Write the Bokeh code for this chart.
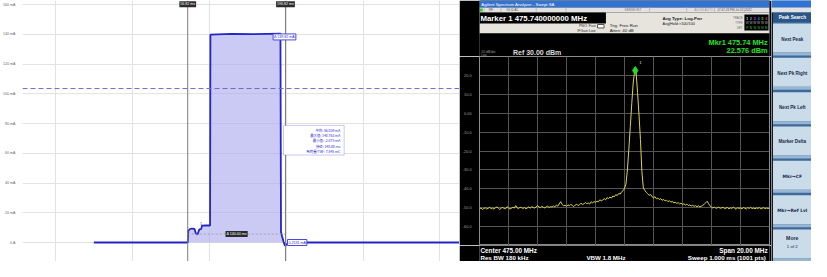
import numpy as np
from bokeh.plotting import figure
from bokeh.layouts import row, column
from bokeh.models import Range1d, FixedTicker, Label, BoxAnnotation, Span
from bokeh.core.properties import value
from bokeh.embed import file_html
from bokeh.resources import INLINE

FONT = "Liberation Sans"
CJK = "Noto Sans CJK SC"

# ---------------- Left: current waveform (time in ms, current in mA) ----------------
wave_t = [-77.6, 56.82, 57.6, 59.5, 62.4, 66.6, 68.4, 70.8, 73.4, 76.0, 77.4, 87.6, 88.8,
          89.3, 120.0, 150.0, 189.6, 190.4, 192.0, 194.0, 196.0, 199.0, 201.0, 446.0]
wave_i = [0.0, 0.0, 7.8, 8.9, 9.4, 9.1, 6.2, 5.4, 8.8, 9.0, 11.4, 11.6, 11.2,
          139.8, 140.3, 140.1, 140.4, 7.2, 4.0, 0.6, -2.1, -1.2, 0.0, 0.0]
cursor_t = [56.82, 196.82]
threshold_ma = 103.5
delta_level_ma = 5.7
readout_level_ma = 138.2
current_ticks = [0, 20, 40, 60, 80, 100, 120, 140, 160]
current_tick_labels = ["0 A", "20 mA", "40 mA", "60 mA", "80 mA", "100 mA", "120 mA", "140 mA", "160 mA"]
time_grid = [-132, -22, 88, 198, 308, 418]
peak_readout = "Δ 139.82 mA"
base_readout = "0.2531 mA"
stats_lines = ["平均: 56.039 mA", "最大值: 140.763 mA", "最小值: -2.075 mA",
               "持续: 140.00 ms", "电荷量/TBF: 7.845 mC"]

# ---------------- Right: spectrum analyzer trace ----------------
center_mhz = 475.0
span_mhz = 20.0
ref_dbm = 30.0
db_per_div = 10
rbw_text = "180 kHz"
vbw_text = "1.8 MHz"
sweep_text = "1.000 ms (1001 pts)"
marker_mhz = 475.74
marker_dbm = 22.576
spec_level = [
    -50.6, -50.2, -50.9, -50.4, -50.1, -50.7, -50.3, -49.8, -50.5, -50.2,
    -50.8, -50.0, -49.6, -50.3, -50.9, -50.2, -49.9, -50.4, -50.6, -49.5,
    -50.1, -50.7, -50.3, -49.8, -50.2, -48.9, -50.1, -50.5, -49.7, -50.0,
    -50.4, -49.9, -50.6, -50.1, -49.6, -50.3, -49.4, -49.9, -50.2, -49.7,
    -48.8, -49.6, -50.0, -49.3, -49.8, -50.1, -49.5, -49.2, -49.9, -49.4,
    -49.7, -49.1, -49.6, -48.6, -49.2, -48.0, -46.8, -48.3, -49.0, -48.7,
    -49.3, -48.5, -49.0, -48.2, -48.8, -49.4, -48.6, -48.1, -48.9, -48.4,
    -47.6, -48.3, -48.0, -47.2, -47.9, -47.5, -48.1, -46.9, -47.4, -46.8,
    -47.2, -46.5, -46.9, -45.8, -46.4, -45.9, -45.2, -45.8, -44.7, -45.1,
    -44.4, -44.9, -43.8, -44.2, -43.1, -43.6, -42.5, -42.8, -41.6, -41.0,
    -39.8, -37.5, -30.0, -19.0, -7.0, 5.0, 16.0, 22.3, 21.6, 11.0,
    -1.0, -14.0, -31.0, -39.6, -40.8, -41.9, -42.6, -43.5, -43.0, -44.2,
    -44.8, -44.1, -45.3, -44.9, -45.7, -45.2, -46.1, -45.6, -46.4, -46.0,
    -46.8, -46.3, -47.1, -46.6, -47.5, -47.0, -47.8, -47.3, -48.0, -47.6,
    -48.3, -47.9, -48.6, -48.1, -48.9, -48.5, -49.1, -48.7, -49.3, -48.9,
    -49.5, -49.0, -49.6, -49.2, -48.8, -48.1, -47.4, -46.6, -47.9, -49.0,
    -49.8, -50.2, -49.6, -50.4, -50.0, -49.7, -50.3, -50.1, -49.8, -50.5,
    -50.2, -49.9, -50.6, -50.1, -50.4, -49.7, -50.3, -50.8, -50.0, -50.4,
    -50.1, -50.6, -49.9, -50.3, -50.7, -50.0, -50.4, -49.8, -50.5, -50.2,
    -50.6, -50.1, -50.4, -49.9, -50.7, -50.3, -50.0, -50.5, -50.2, -50.4,
    -50.3]
spec_freq = np.linspace(center_mhz - span_mhz / 2, center_mhz + span_mhz / 2, len(spec_level))
level_ticks = [-60, -50, -40, -30, -20, -10, 0, 10, 20]
level_tick_labels = ["-60.0", "-50.0", "-40.0", "-30.0", "-20.0", "-10.0", "0.00", "10.0", "20.0"]
softkeys = ["Next Peak", "Next Pk Right", "Next Pk Left", "Marker Delta", "Mkr→CF", "Mkr→Ref Lvl", "More"]
trace_digits = ["1", "2", "3", "4", "5", "6"]


def txt(p, x, y, s, size, color, align="left", bold=False, font=FONT):
    p.text(x=[x], y=[y], text=[s], text_font=value(font), text_font_size=value(f"{size}px"),
           text_color=color, text_align=align, text_baseline="middle",
           text_font_style="bold" if bold else "normal")


def box(p, l, r, t, b, color, line=None):
    p.quad(left=[l], right=[r], top=[t], bottom=[b], fill_color=color, line_color=line)


def panel(x0, x1, y0, y1, bg):
    p = figure(width=int(x1 - x0), height=int(y1 - y0), x_range=Range1d(x0, x1), y_range=Range1d(y1, y0),
               x_axis_location=None, y_axis_location=None, min_border=0,
               toolbar_location=None, output_backend="svg")
    p.grid.visible = False
    p.outline_line_color = None
    p.background_fill_color = bg
    p.border_fill_color = bg
    return p


# ================= Left chart =================
L = figure(width=459, height=261, x_range=Range1d(-179.78, 446.02), y_range=Range1d(-12.77, 162.69),
           x_axis_location=None, y_axis_location="left", toolbar_location=None, output_backend="svg",
           min_border_left=12, min_border_right=0, min_border_top=0, min_border_bottom=0)
L.outline_line_color = None
L.background_fill_color = "white"
L.border_fill_color = "white"
L.yaxis.ticker = FixedTicker(ticks=current_ticks)
L.yaxis.major_label_overrides = dict(zip(current_ticks, current_tick_labels))
L.yaxis.axis_line_color = None
L.yaxis.major_tick_line_color = None
L.yaxis.minor_tick_line_color = None
L.yaxis.major_label_text_font_size = "3.6px"
L.yaxis.major_label_text_color = "#666666"
L.yaxis.major_label_standoff = 1
L.xgrid.ticker = FixedTicker(ticks=time_grid)
L.grid.grid_line_color = "#e2e2e2"

c0, c1 = cursor_t
fill_t = [t for t in wave_t if c0 <= t <= c1]
fill_i = [i for t, i in zip(wave_t, wave_i) if c0 <= t <= c1]
L.varea(x=fill_t, y1=[0] * len(fill_t), y2=fill_i, fill_color="#a9a9ee", fill_alpha=0.62)
L.line(wave_t, wave_i, line_color="#2424c8", line_width=1.8)
L.line([c0, c1], [delta_level_ma, delta_level_ma], line_color="#9a9a9a", line_dash="2 2", line_width=0.8)

L.add_layout(Span(location=threshold_ma, dimension="width", line_color="#6b6bd6",
                  line_dash="5 3", line_width=1))
for t in cursor_t:
    L.add_layout(Span(location=t, dimension="height", line_color="#7c7c7c", line_width=1))
    L.add_layout(Label(x=t, y=160.2, text=f"{t:.2f} ms", text_font=FONT, text_font_size="3.6px",
                       text_color="white", text_align="center", text_baseline="middle",
                       background_fill_color="#2b2b2b", padding=1))

L.add_layout(Label(x=(c0 + c1) / 2, y=delta_level_ma, text=f"Δ {c1 - c0:.2f} ms", text_font=FONT,
                   text_font_size="3.6px", text_color="white", text_align="center",
                   text_baseline="middle", background_fill_color="#2b2b2b", padding=1))
L.add_layout(Label(x=c1, y=readout_level_ma, x_offset=-1, text=peak_readout, text_font=FONT,
                   text_font_size="3.6px", text_color="#2a2ad0", text_align="center",
                   text_baseline="middle", background_fill_color="white",
                   border_line_color="#4a4ad6", padding=1))
L.add_layout(Label(x=c1, y=0, x_offset=2, text=base_readout, text_font=FONT,
                   text_font_size="3.6px", text_color="#2a2ad0", text_align="left",
                   text_baseline="middle", background_fill_color="white",
                   border_line_color="#4a4ad6", padding=1))
L.add_layout(Label(x=76.0, y=9.2, y_offset=5, text="1", text_font=FONT, text_font_size="3.6px",
                   text_color="#2a2ad0", text_align="center", text_baseline="middle"))

L.add_layout(BoxAnnotation(left=c1 - 2.8, right=c1 + 84, top=78.7, bottom=58.8, fill_color="white",
                           fill_alpha=1, line_color="#4a4ad6", line_width=1, level="annotation"))
for k, s in enumerate(stats_lines):
    L.add_layout(Label(x=c1 + 78.4, y=75.5 - 3.6 * k, text=s, text_font=CJK, text_font_size="3.4px",
                       text_color="#2a2ad0", text_align="right", text_baseline="middle"))

# ================= Right: header =================
H = panel(467, 779, 8, 64, "black")
box(H, 467, 779, 8, 15, "#2f73d4")
txt(H, 469, 11.6, "Agilent Spectrum Analyzer - Swept SA", 4.3, "white")
box(H, 467, 779, 15, 20, "#e2e2e2")
seps = [472, 490, 528, 560, 650, 690, 720, 752]
H.segment(x0=seps, y0=[15] * len(seps), x1=seps, y1=[20] * len(seps), line_color="#b4b4b4", line_width=0.8)
box(H, 467.5, 470.5, 16, 19, "#2ecc2e")
txt(H, 477, 17.6, "RF", 3.2, "#555555")
txt(H, 496, 17.6, "50 Ω  AC", 3.2, "#555555")
txt(H, 623, 17.6, "SENSE:INT", 3.2, "#777777")
txt(H, 698, 17.6, "ALIGN AUTO", 3.2, "#999999")
txt(H, 723, 17.6, "07:41:28 PM Jul 07, 2022", 3.0, "#555555")
box(H, 467, 779, 20, 41, "#e6e4dc")
box(H, 467, 603, 20, 31, "black")
txt(H, 468, 25.8, f"Marker 1 {marker_mhz:.9f} MHz", 7.8, "white", bold=True)
txt(H, 592, 33.5, "PNO: Fast", 3.6, "#333333", align="right")
txt(H, 592, 38.6, "IFGain:Low", 3.6, "#333333", align="right")
box(H, 594, 601, 32, 35.5, "white", line="#555555")
txt(H, 607, 32.8, "Trig: Free Run", 4.4, "#222222")
txt(H, 607, 38.4, "Atten: 40 dB", 4.4, "#222222")
txt(H, 664, 25.6, "Avg Type: Log-Pwr", 4.4, "#222222", bold=True)
txt(H, 664, 31.2, "Avg|Hold:>100/100", 3.8, "#222222")
txt(H, 750, 25.5, "TRACE", 2.8, "#666666", align="right")
txt(H, 750, 30.5, "TYPE", 2.8, "#666666", align="right")
txt(H, 750, 35.5, "DET", 2.8, "#666666", align="right")
box(H, 752, 778, 22, 38, "black")
digit_colors = ["#f0e040", "#30d0f0", "#e040e0", "#5070ff", "#40e040", "#e04040"]
for k, d in enumerate(trace_digits):
    txt(H, 755 + 4.1 * k, 25.5, d, 3.4, digit_colors[k], align="center", bold=True)
    txt(H, 755 + 4.1 * k, 30.5, "W", 3.2, "#b0b0b0", align="center")
    txt(H, 755 + 4.1 * k, 35.5, "P" if k == 0 else "N", 3.2, "#3ccf3c", align="center")
box(H, 467, 779, 41, 64, "black")
txt(H, 777, 49.5, f"Mkr1 {marker_mhz:.2f} MHz", 7.4, "#27e327", align="right", bold=True)
txt(H, 777, 57.6, f"{marker_dbm:.3f} dBm", 7.4, "#27e327", align="right", bold=True)
txt(H, 469, 59.2, f"{db_per_div} dB/div", 3.4, "#9a9a9a")
txt(H, 469, 62.0, "Log", 3.1, "#9a9a9a")
txt(H, 503, 59.8, f"Ref {ref_dbm:.2f} dBm", 7.0, "#dcdcdc", bold=True)

# ================= Right: spectrum plot =================
S = figure(width=312, height=189,
           x_range=Range1d(center_mhz - span_mhz / 2, center_mhz + span_mhz / 2),
           y_range=Range1d(ref_dbm - 10 * db_per_div, ref_dbm),
           x_axis_location=None, y_axis_location="left", toolbar_location=None, output_backend="svg",
           min_border_left=17, min_border_right=2, min_border_top=0, min_border_bottom=0)
S.background_fill_color = "black"
S.border_fill_color = "black"
S.outline_line_color = "#8c8c8c"
S.xgrid.ticker = FixedTicker(ticks=[center_mhz + span_mhz / 10 * k for k in range(-4, 5)])
S.yaxis.ticker = FixedTicker(ticks=level_ticks)
S.yaxis.major_label_overrides = dict(zip(level_ticks, level_tick_labels))
S.yaxis.axis_line_color = None
S.yaxis.major_tick_line_color = None
S.yaxis.minor_tick_line_color = None
S.yaxis.major_label_text_font_size = "3.8px"
S.yaxis.major_label_text_color = "#a0a0a0"
S.yaxis.major_label_standoff = 2
S.grid.grid_line_color = "#555555"
S.line(spec_freq, spec_level, line_color="#dcd44a", line_width=1)
S.scatter([marker_mhz], [marker_dbm], marker="diamond", size=8, fill_color="#22dd22",
          line_color="#22dd22")
S.add_layout(Label(x=marker_mhz, y=marker_dbm, x_offset=4, y_offset=8, text="1", text_font=FONT,
                   text_font_size="4px", text_color="#e8e060", text_baseline="middle"))

# ================= Right: footer =================
F = panel(467, 779, 253, 269, "black")
txt(F, 468, 257.8, f"Center {center_mhz:.2f} MHz", 6.4, "white", bold=True)
txt(F, 468, 265.2, f"Res BW {rbw_text}", 6.2, "white", bold=True)
txt(F, 582, 265.2, f"VBW {vbw_text}", 6.2, "white", bold=True)
txt(F, 777, 257.8, f"Span {span_mhz:.2f} MHz", 6.4, "white", align="right", bold=True)
txt(F, 777, 265.2, f"Sweep  {sweep_text}", 6.2, "white", align="right", bold=True)

# ================= Right: soft keys =================
B = panel(779, 819, 8, 269, "#3d6a9a")
box(B, 779, 819, 8, 15, "#2f73d4")
box(B, 779, 819, 15, 20, "#e2e2e2")
box(B, 779, 780.5, 20, 269, "#1a1a1a")
box(B, 780.5, 819, 20, 29.5, "#2a5687")
txt(B, 799.8, 24.8, "Peak Search", 4.6, "white", align="center", bold=True)
for k, lab in enumerate(softkeys):
    top = 31 + 34.33 * k
    bot = top + 32
    box(B, 780.5, 819, top, bot - 3, "#cadcea")
    box(B, 780.5, 819, bot - 3, bot, "#98b6d2")
    if lab == "More":
        txt(B, 799.8, top + 8.5, lab, 5.2, "#1c2a48", align="center", bold=True)
        txt(B, 799.8, top + 17, "1 of 2", 4.4, "#1c2a48", align="center")
    elif "→" in lab:
        txt(B, 799.8, top + 15.5, lab, 4.4, "#1c2a48", align="center", bold=True, font="DejaVu Sans")
    else:
        txt(B, 799.8, top + 15.5, lab, 4.6, "#1c2a48", align="center", bold=True)

layout = row(L, column(H, S, F), B)
open("out.html", "w", encoding="utf-8").write(file_html(layout, INLINE, title="chart"))
